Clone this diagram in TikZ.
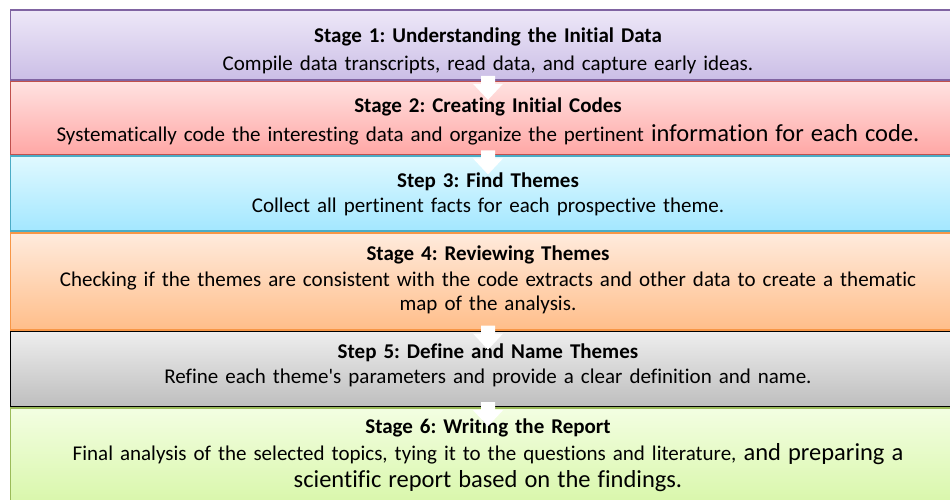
\documentclass[tikz,border=0pt]{standalone}
\usepackage{fontspec}
\setmainfont{Carlito}[Ligatures=NoCommon]
\usetikzlibrary{positioning}

\definecolor{purpleline}{HTML}{8064A2}
\definecolor{purpletop}{HTML}{EEE8F8}
\definecolor{purplebot}{HTML}{CBBEE6}
\definecolor{redline}{HTML}{C0504D}
\definecolor{redtop}{HTML}{FFE2E1}
\definecolor{redbot}{HTML}{FFA7A5}
\definecolor{cyanline}{HTML}{4BACC6}
\definecolor{cyantop}{HTML}{E0F9FF}
\definecolor{cyanbot}{HTML}{A3E7FF}
\definecolor{orangeline}{HTML}{F79646}
\definecolor{orangetop}{HTML}{FFEBDD}
\definecolor{orangebot}{HTML}{FFBE8A}
\definecolor{graytop}{HTML}{EEEEEE}
\definecolor{graybot}{HTML}{BEBEBE}
\definecolor{greenline}{HTML}{9BBB59}
\definecolor{greentop}{HTML}{F3FEE2}
\definecolor{greenbot}{HTML}{D6F6A5}

\tikzset{
  x=1pt, y=-1pt, % work in pixels, y going down
  node distance=0pt, % the boxes sit right on top of each other
  stage/.style={draw, line width=1.6pt, minimum width=955pt, text width=935pt,
    align=center, inner sep=0pt, font=\fontsize{21}{27}\selectfont}, % sets the look of every box
  firstline/.style={text height=0pt, text depth=#1}, % title baseline sits #1/2 above the box centre
  purplebox/.style={stage, draw=purpleline, top color=purpletop, bottom color=purplebot},
  redbox/.style={stage, draw=redline, top color=redtop, bottom color=redbot},
  cyanbox/.style={stage, draw=cyanline, top color=cyantop, bottom color=cyanbot},
  orangebox/.style={stage, draw=orangeline, top color=orangetop, bottom color=orangebot},
  graybox/.style={stage, draw=black, top color=graytop, bottom color=graybot},
  greenbox/.style={stage, draw=greenline, top color=greentop, bottom color=greenbot},
}

\newcommand{\bigger}{\fontsize{24.5}{27}\selectfont}

\begin{document}
\frenchspacing
\begin{tikzpicture}
  \useasboundingbox (0,0) rectangle (950,500);
  \clip (0,0) rectangle (950,500);

  \node[purplebox, minimum height=70pt, firstline=4pt] (s1) at (488,45)
    {\textbf{Stage 1: Understanding the Initial Data}\\[1pt]
     Compile data transcripts, read data, and capture early ideas.};
  \node[redbox, minimum height=73pt, firstline=12pt, below=of s1] (s2)
    {\textbf{Stage 2: Creating Initial Codes}\\[2pt]
     Systematically code the interesting data and organize the pertinent {\bigger information for each code.}};
  \node[cyanbox, minimum height=75pt, firstline=13pt, below=of s2] (s3)
    {\textbf{Step 3: Find Themes}\\[-2pt]
     Collect all pertinent facts for each prospective theme.};
  \node[orangebox, minimum height=97pt, firstline=42pt, below=of s3] (s4)
    {\textbf{Stage 4: Reviewing Themes}\\[-1pt]
     Checking if the themes are consistent with the code extracts and other data to create a thematic\\[-3pt]
     map of the analysis.};
  \node[graybox, minimum height=75pt, firstline=21pt, below=of s4] (s5)
    {\textbf{Step 5: Define and Name Themes}\\[-2pt]
     Refine each theme\textquotesingle s parameters and provide a clear definition and name.};
  \node[greenbox, minimum height=105pt, firstline=54pt, below=of s5] (s6)
    {\textbf{Stage 6: Writing the Report}\\
     Final analysis of the selected topics, tying it to the questions and literature, {\bigger and preparing a}\\
     {\bigger scientific report based on the findings.}};

  % white block arrows over the joins (the one under s4 is hidden)
  \foreach \a in {s1, s2, s4, s5}
    \fill[white] (\a.south) ++(-7,-5) -- ++(0,8) -- ++(-8,0) -- ++(15,16)
      -- ++(15,-16) -- ++(-8,0) -- ++(0,-8) -- cycle;
\end{tikzpicture}
\end{document}
